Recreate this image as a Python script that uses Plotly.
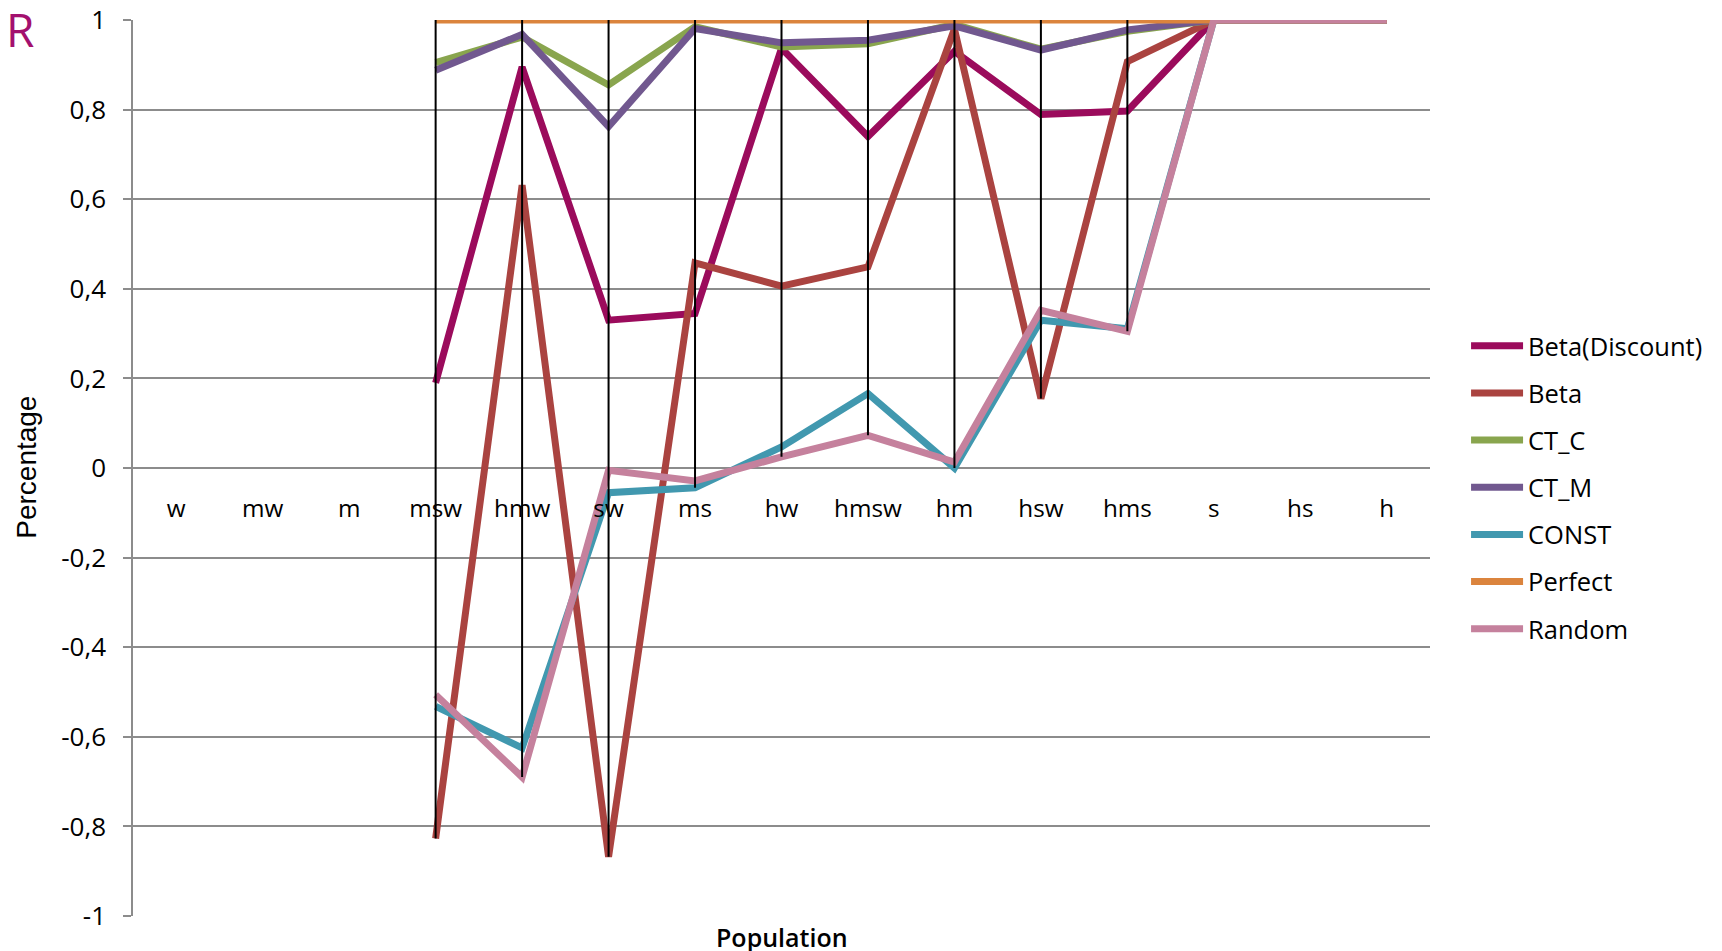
import plotly.graph_objects as go

categories = ["w", "mw", "m", "msw", "hmw", "sw", "ms", "hw", "hmsw", "hm", "hsw", "hms", "s", "hs", "h"]

beta_discount = [None, None, None, 0.19, 0.895, 0.33, 0.345, 0.937, 0.74, 0.93, 0.789, 0.797, 1, 1, 1]
beta = [None, None, None, -0.827, 0.631, -0.868, 0.458, 0.406, 0.449, 0.98, 0.155, 0.907, 1, 1, 1]
ct_c = [None, None, None, 0.905, 0.962, 0.855, 0.985, 0.94, 0.947, 0.99, 0.935, 0.975, 1, 1, 1]
ct_m = [None, None, None, 0.888, 0.968, 0.762, 0.981, 0.949, 0.955, 0.987, 0.933, 0.978, 1, 1, 1]
const = [None, None, None, -0.532, -0.625, -0.055, -0.044, 0.047, 0.166, 0.0, 0.33, 0.311, 1, 1, 1]
perfect = [None, None, None, 1, 1, 1, 1, 1, 1, 1, 1, 1, 1, 1, 1]
random_ = [None, None, None, -0.506, -0.69, -0.005, -0.029, 0.025, 0.073, 0.013, 0.352, 0.305, 1, 1, 1]

series_names = ["Beta(Discount)", "Beta", "CT_C", "CT_M", "CONST", "Perfect", "Random"]
series_values = [beta_discount, beta, ct_c, ct_m, const, perfect, random_]
series_colors = ["#9B0B5C", "#AA4340", "#89A54E", "#71588F", "#4198AF", "#DB843D", "#C5819D"]

y_tick_vals = [-1, -0.8, -0.6, -0.4, -0.2, 0, 0.2, 0.4, 0.6, 0.8, 1]
y_tick_text = ["-1", "-0,8", "-0,6", "-0,4", "-0,2", "0", "0,2", "0,4", "0,6", "0,8", "1"]

FONT = "Open Sans"
fig = go.Figure()

for i, (name, vals, col) in enumerate(zip(series_names, series_values, series_colors)):
    fig.add_trace(go.Scatter(
        x=categories, y=vals, name=name, mode="lines",
        line=dict(color=col, width=7), connectgaps=False,
        legendgroup=f"g{i}",
    ))

# high-low lines computed from the series
hl_x, hl_y = [], []
for j, c in enumerate(categories):
    vs = [s[j] for s in series_values if s[j] is not None]
    if vs and max(vs) != min(vs):
        hl_x += [c, c, None]
        hl_y += [max(vs), min(vs), None]
fig.add_trace(go.Scatter(x=hl_x, y=hl_y, mode="lines", line=dict(color="black", width=2),
                         showlegend=False, hoverinfo="skip"))

fig.update_layout(
    width=1714, height=943,
    margin=dict(l=125, r=292, t=12, b=35, autoexpand=False),
    paper_bgcolor="white", plot_bgcolor="white",
    font=dict(family=FONT, size=24, color="black"),
    legend=dict(x=1.0278, xanchor="left", y=0.478, yanchor="middle",
                font=dict(size=25.5), tracegroupgap=11, itemwidth=52,
                bgcolor="rgba(0,0,0,0)"),
    xaxis=dict(
        type="category", categoryorder="array", categoryarray=categories,
        range=[-0.5, len(categories) - 0.5], automargin=False,
        anchor="free", position=0.5, showline=False, showgrid=False, zeroline=False,
        ticks="", ticklabelstandoff=24, tickfont=dict(size=24.3),
    ),
    yaxis=dict(
        range=[-1, 1], tickvals=y_tick_vals, ticktext=y_tick_text, automargin=False,
        showgrid=True, gridcolor="#8C8C8C", gridwidth=1.5,
        zeroline=False, showline=True, linecolor="#8C8C8C", linewidth=1.5,
        ticks="outside", ticklen=8, tickcolor="#8C8C8C", tickwidth=1.5,
        ticklabelstandoff=12, tickfont=dict(size=26), ticklabeloverflow="allow",
    ),
    annotations=[
        dict(text="R", xref="paper", yref="paper", x=-0.0995, y=0.9894, xanchor="left",
             yanchor="middle", showarrow=False, font=dict(size=46, color="#A3106E", family=FONT)),
        dict(text="Percentage", xref="paper", yref="paper", x=-0.0817, y=0.5003, textangle=-90,
             xanchor="center", yanchor="middle", showarrow=False,
             font=dict(size=28, family="Liberation Sans")),
        dict(text="Population", xref="paper", yref="paper", x=0.5, y=0, yshift=-21,
             xanchor="center", yanchor="middle", showarrow=False,
             font=dict(size=25, weight=600)),
    ],
)

fig.write_html("out.html")
